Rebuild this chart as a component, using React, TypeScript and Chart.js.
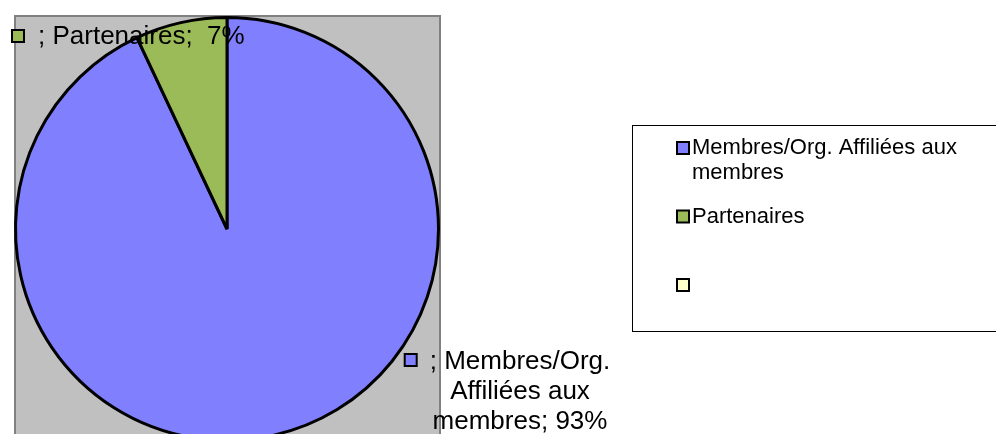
import React, { useEffect, useRef } from "react";
import { Chart, registerables } from "chart.js";

Chart.register(...registerables);

const categories = ["Membres/Org. Affiliées aux membres", "Partenaires", ""];
const shares = [93, 7, 0];
const shareLabels = ["93%", " 7%", ""];
const sliceColors = ["#8080FF", "#9BBB59", "#FFFFCC"];

const W = 996;
const H = 460;
const FONT = "'Liberation Sans', Arial, Helvetica, sans-serif";

function wrap(ctx: CanvasRenderingContext2D, text: string, maxWidth: number): string[] {
  const words = text.split(" ");
  const lines: string[] = [];
  let cur = "";
  for (const w of words) {
    const test = cur === "" ? w : cur + " " + w;
    if (cur !== "" && ctx.measureText(test).width > maxWidth) {
      lines.push(cur);
      cur = w;
    } else {
      cur = test;
    }
  }
  if (cur !== "") lines.push(cur);
  return lines;
}

function marker(ctx: CanvasRenderingContext2D, x: number, cy: number, color: string, size: number) {
  ctx.save();
  ctx.fillStyle = color;
  ctx.fillRect(x + 1, cy - size / 2 + 1, size - 2, size - 2);
  ctx.strokeStyle = "#000";
  ctx.lineWidth = 2;
  ctx.strokeRect(x + 1, cy - size / 2 + 1, size - 2, size - 2);
  ctx.restore();
}

const plotAreaPlugin = {
  id: "plotArea",
  beforeDraw(chart: any) {
    const { ctx, chartArea } = chart;
    ctx.save();
    ctx.fillStyle = "#C0C0C0";
    ctx.fillRect(chartArea.left + 1, chartArea.top, chartArea.right - chartArea.left - 1, H);
    ctx.strokeStyle = "#808080";
    ctx.lineWidth = 2;
    ctx.strokeRect(chartArea.left + 1, chartArea.top, chartArea.right - chartArea.left - 1, H);
    ctx.restore();
  },
  afterDraw(chart: any) {
    const { ctx } = chart;
    const labels: string[] = chart.data.labels;
    const colors: string[] = chart.data.datasets[0].backgroundColor;
    ctx.save();
    ctx.fillStyle = "#000";
    ctx.textBaseline = "middle";

    // data labels
    ctx.font = "26px " + FONT;
    {
      const i = 1;
      const text = "; " + labels[i] + "; " + shareLabels[i];
      const x = 38;
      const y = 37;
      marker(ctx, x - 27, y - 1, colors[i], 14);
      ctx.textAlign = "left";
      ctx.fillText(text, x, y);
    }
    {
      const i = 0;
      const text = "; " + labels[i] + "; " + shareLabels[i];
      const lines = wrap(ctx, text, 188);
      const cx = 520;
      const y0 = 362;
      ctx.textAlign = "center";
      lines.forEach((ln, k) => ctx.fillText(ln, cx, y0 + k * 30));
      const w0 = ctx.measureText(lines[0]).width;
      marker(ctx, cx - w0 / 2 - 26, y0 - 2, colors[i], 14);
    }

    // legend box
    ctx.strokeStyle = "#000";
    ctx.lineWidth = 1;
    ctx.strokeRect(632.5, 125.5, 420, 206);
    ctx.font = "22px " + FONT;
    ctx.textAlign = "left";
    labels.forEach((lab, i) => {
      const y = 148 + i * 68.5;
      marker(ctx, 676, y, colors[i], 14);
      const lines = lab ? wrap(ctx, lab, 290) : [];
      lines.forEach((ln, k) => ctx.fillText(ln, 692, y + k * 25));
    });
    ctx.restore();
  },
};

export default function App() {
  const ref = useRef<HTMLCanvasElement | null>(null);
  useEffect(() => {
    document.body.style.margin = "0";
    const canvas = ref.current!;
    const chart = new Chart(canvas, {
      type: "pie",
      data: {
        labels: categories,
        datasets: [
          {
            data: shares,
            backgroundColor: sliceColors,
            borderColor: "#000000",
            borderWidth: 3,
          },
        ],
      },
      options: {
        responsive: false,
        animation: false,
        events: [],
        layout: { padding: { left: 14, right: W - 440, top: 16, bottom: H - 442 } },
        plugins: {
          legend: { display: false },
          tooltip: { enabled: false },
          title: { display: false },
        },
      },
      plugins: [plotAreaPlugin],
    });
    return () => chart.destroy();
  }, []);
  return (
    <div style={{ position: "fixed", left: 0, top: 0, width: W, height: 434, overflow: "hidden", background: "#fff" }}>
      <canvas ref={ref} width={W} height={H} style={{ display: "block", width: W, height: H }} />
    </div>
  );
}
